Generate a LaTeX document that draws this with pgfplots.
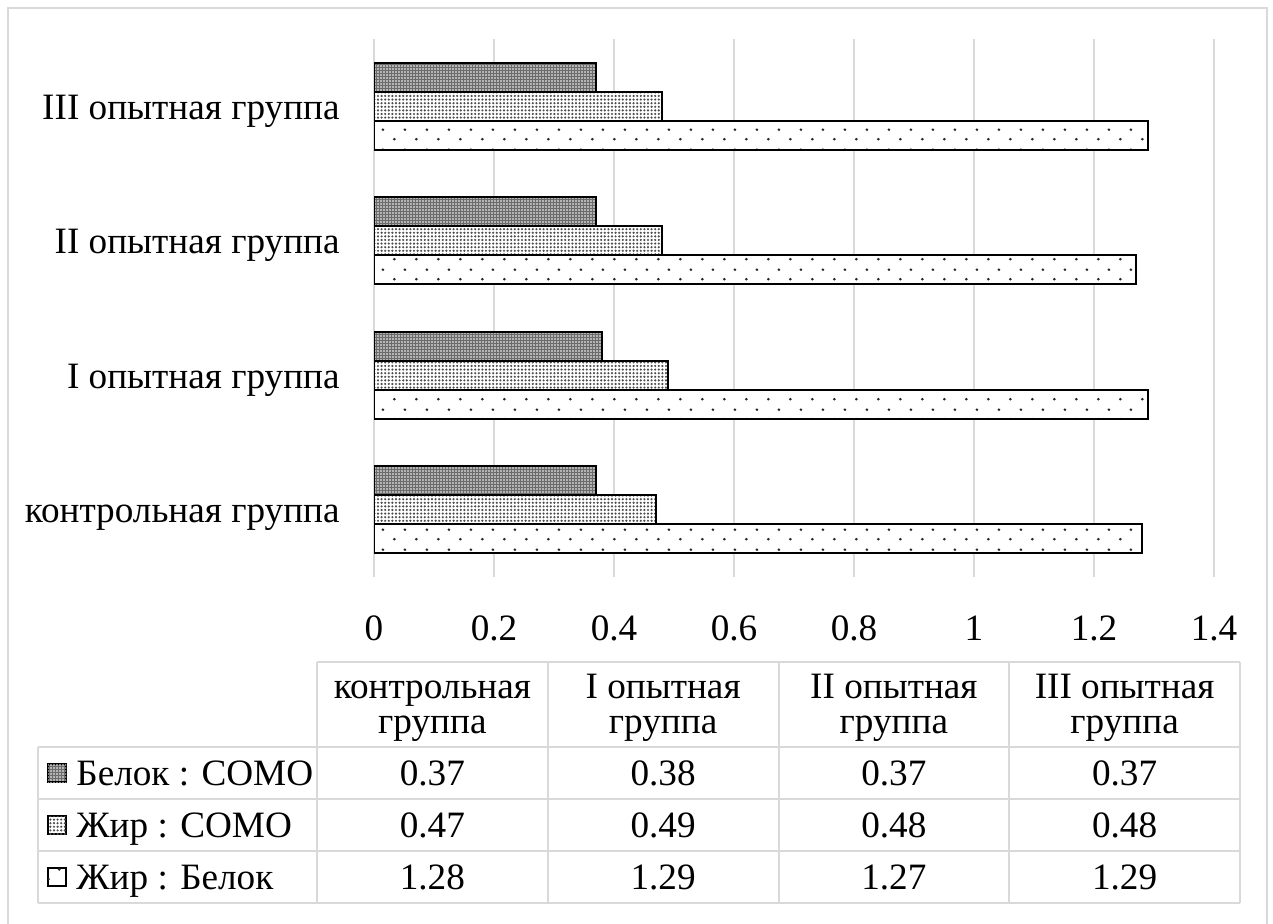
\documentclass[border=0pt]{standalone}
\usepackage{fontspec}
\setmainfont{Liberation Serif}
\usepackage{pgfplots}
\usepackage{pgfplotstable}
\pgfplotsset{compat=1.18}
\usetikzlibrary{patterns,patterns.meta}

\definecolor{gridgray}{HTML}{D9D9D9}

% ratios per group: Белок:СОМО, Жир:СОМО, Жир:Белок
\pgfplotstableread{
idx bc   zc   zb
0   0.37 0.47 1.28
1   0.38 0.49 1.29
2   0.37 0.48 1.27
3   0.37 0.48 1.29
}\datatable

% sparse staggered dots
\pgfdeclarepatternformonly{sparsedots}{\pgfqpoint{0pt}{0pt}}{\pgfqpoint{10.8pt}{10pt}}{\pgfqpoint{10.8pt}{10pt}}{
  \pgfpathcircle{\pgfqpoint{2.7pt}{2.5pt}}{0.75pt}
  \pgfpathcircle{\pgfqpoint{8.1pt}{7.5pt}}{0.75pt}
  \pgfusepath{fill}
}

\newcommand\cellfont{\fontsize{18.6}{22}\selectfont}

\tikzset{
  belokcomo/.style={fill=black!58, postaction={pattern={Dots[distance=1.5pt,radius=0.42pt]}, pattern color=white}},
  zhircomo/.style={fill=white, postaction={pattern={Dots[distance=1.8pt,radius=0.6pt]}, pattern color=black!70}},
  zhirbelok/.style={fill=white, postaction={pattern=sparsedots, pattern color=black!85}},
  cell/.style={font=\cellfont, inner sep=0pt},
}

\begin{document}
\begin{tikzpicture}
\useasboundingbox (0pt,0pt) rectangle (636.5pt,-462pt);
% outer frame
\draw[gridgray, line width=1pt] (4pt,-470pt) -- (4pt,-4pt) -- (633.5pt,-4pt) -- (633.5pt,-470pt);

\begin{axis}[
  at={(187pt,-288.5pt)}, anchor=south west,
  scale only axis, width=420pt, height=269pt,
  xbar, bar width=14.5pt,
  xmin=0, xmax=1.4, ymin=-0.5, ymax=3.5,
  xtick={0,0.2,0.4,0.6,0.8,1,1.2,1.4},
  xticklabels={0,0.2,0.4,0.6,0.8,1,1.2,1.4},
  ytick={0,1,2,3},
  yticklabels={контрольная группа, I опытная группа, II опытная группа, III опытная группа},
  xmajorgrids, major grid style={gridgray, line width=1pt},
  axis line style={draw=none},
  major tick length=0pt, tick style={draw=none},
  xticklabel style={anchor=base, yshift=-31.8pt, inner sep=0pt, font=\cellfont},
  yticklabel style={anchor=base east, xshift=-17pt, yshift=-6.5pt, inner sep=0pt, font=\cellfont},
]
\addplot[draw=black, line width=1pt, zhirbelok, bar shift=-14.5pt] table[x=zb, y=idx]{\datatable};
\addplot[draw=black, line width=1pt, zhircomo, bar shift=0pt] table[x=zc, y=idx]{\datatable};
\addplot[draw=black, line width=1pt, belokcomo, bar shift=14.5pt] table[x=bc, y=idx]{\datatable};
\end{axis}

% data table
\begin{scope}[gridgray, line width=1pt]
  \draw (158.5pt,-331pt) -- (620pt,-331pt);
  \foreach \yy in {-373.5,-399.5,-425.5,-451.5} \draw (19pt,\yy pt) -- (620pt,\yy pt);
  \draw (19pt,-373.5pt) -- (19pt,-451.5pt);
  \foreach \xx in {158.5,273.875,389.25,504.625,620} \draw (\xx pt,-331pt) -- (\xx pt,-451.5pt);
\end{scope}

\foreach \cx/\la in {216.19/контрольная, 331.56/I опытная, 446.94/II опытная, 562.31/III опытная} {
  \node[cell, anchor=base] at (\cx pt,-349.3pt) {\la};
  \node[cell, anchor=base] at (\cx pt,-366.8pt) {группа};
}

\foreach \r/\cx in {0/216.19, 1/331.56, 2/446.94, 3/562.31} {
  \pgfplotstablegetelem{\r}{bc}\of\datatable \let\vbc\pgfplotsretval
  \pgfplotstablegetelem{\r}{zc}\of\datatable \let\vzc\pgfplotsretval
  \pgfplotstablegetelem{\r}{zb}\of\datatable \let\vzb\pgfplotsretval
  \node[cell, anchor=base] at (\cx pt,-392.8pt) {\vbc};
  \node[cell, anchor=base] at (\cx pt,-418.8pt) {\vzc};
  \node[cell, anchor=base] at (\cx pt,-444.8pt) {\vzb};
}

% legend keys
\draw[line width=0.6pt, belokcomo] (24pt,-382pt) rectangle (33pt,-391pt);
\draw[line width=0.6pt, zhircomo]  (24pt,-408pt) rectangle (33pt,-417pt);
\draw[line width=0.6pt, zhirbelok] (24pt,-434pt) rectangle (33pt,-443pt);
\node[cell, anchor=base west] at (38pt,-392.8pt) {Белок : СОМО};
\node[cell, anchor=base west] at (38pt,-418.8pt) {Жир : СОМО};
\node[cell, anchor=base west] at (38pt,-444.8pt) {Жир : Белок};
\end{tikzpicture}
\end{document}
